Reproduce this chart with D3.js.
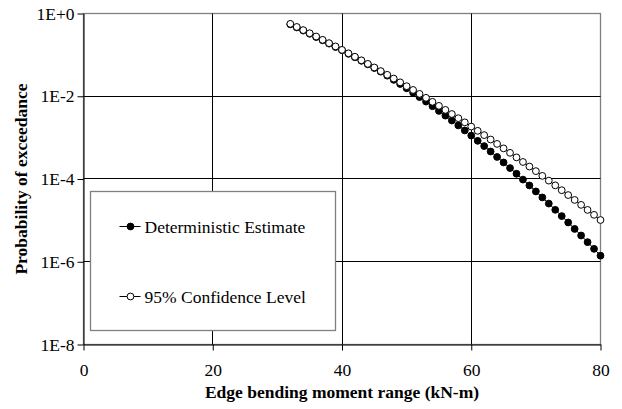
<!DOCTYPE html>
<html>
<head>
<meta charset="utf-8">
<script src="https://cdn.jsdelivr.net/npm/d3@7"></script>
<style>
  body { margin: 0; background: #fff; }
  svg text { font-family: "Liberation Serif", "Times New Roman", serif; fill: #000; }
</style>
</head>
<body>
<div id="chart"></div>
<script>

// Edge bending moment range (kN-m)
var moment = [32, 33, 34, 35, 36, 37, 38, 39, 40, 41, 42, 43, 44, 45, 46, 47, 48,
              49, 50, 51, 52, 53, 54, 55, 56, 57, 58, 59, 60, 61, 62, 63, 64, 65,
              66, 67, 68, 69, 70, 71, 72, 73, 74, 75, 76, 77, 78, 79, 80];

// Probability of exceedance, deterministic estimate (filled markers)
var deterministic = [0.547, 0.460, 0.386, 0.324, 0.270, 0.225, 0.187, 0.155, 0.129, 0.106,
                     0.0875, 0.0719, 0.0589, 0.0482, 0.0393, 0.0314, 0.0249, 0.0198, 0.0156, 0.0122,
                     9.55e-3, 7.43e-3, 5.75e-3, 4.43e-3, 3.40e-3, 2.59e-3, 1.97e-3, 1.49e-3, 1.12e-3,
                     8.37e-4, 6.24e-4, 4.62e-4, 3.41e-4, 2.51e-4, 1.84e-4, 1.34e-4,
                     9.68e-5, 6.98e-5, 5.01e-5, 3.58e-5, 2.55e-5, 1.80e-5, 1.27e-5,
                     8.89e-6, 6.21e-6, 4.31e-6, 2.98e-6, 2.05e-6, 1.40e-6];

// Probability of exceedance, 95% confidence level (open markers)
var confidence95 = [0.562, 0.473, 0.397, 0.333, 0.278, 0.231, 0.192, 0.160, 0.132, 0.109,
                    0.0899, 0.0738, 0.0606, 0.0496, 0.0405, 0.0330, 0.0268, 0.0217, 0.0175, 0.0142,
                    0.0114, 9.16e-3, 7.33e-3, 5.86e-3, 4.68e-3, 3.72e-3, 2.95e-3, 2.34e-3, 1.85e-3,
                    1.46e-3, 1.15e-3, 9.00e-4, 7.05e-4, 5.50e-4, 4.29e-4, 3.33e-4, 2.58e-4,
                    2.00e-4, 1.55e-4, 1.19e-4, 9.14e-5, 7.01e-5, 5.36e-5, 4.09e-5, 3.12e-5,
                    2.37e-5, 1.79e-5, 1.36e-5, 1.02e-5];

var xTicks = [0, 20, 40, 60, 80];
var yTicks = [1e0, 1e-2, 1e-4, 1e-6, 1e-8];
var yTickLabels = ["1E+0", "1E-2", "1E-4", "1E-6", "1E-8"];
var seriesNames = ["Deterministic Estimate", "95% Confidence Level"];

var serif = '"Liberation Serif", "Times New Roman", serif';

var W = 622, H = 409;
var margin = {top: 13, right: 22, bottom: 65, left: 83};
var width  = W - margin.left - margin.right;
var height = H - margin.top - margin.bottom;

var svg = d3.select("#chart")
    .append("svg")
    .attr("width", W)
    .attr("height", H)
    .attr("font-family", serif)
  .append("g")
    .attr("transform", "translate(" + (margin.left + 0.5) + "," + (margin.top + 0.5) + ")");

var xs = d3.scaleLinear().domain([0, 80]).range([0, width]);
var ys = d3.scaleLog().domain([1e-8, 1]).range([height, 0]);

// plot frame (grey top and right edge)
svg.append("rect")
    .attr("width", width)
    .attr("height", height)
    .attr("fill", "none")
    .attr("stroke", "#808080")
    .attr("stroke-width", 1.3);

// grid lines
svg.append("g")
    .selectAll("line")
    .data(xTicks.slice(1, -1))
    .join("line")
    .attr("x1", d => Math.round(xs(d))).attr("x2", d => Math.round(xs(d)))
    .attr("y1", 0).attr("y2", height)
    .attr("stroke", "#000");

svg.append("g")
    .selectAll("line")
    .data(yTicks.slice(1, -1))
    .join("line")
    .attr("x1", 0).attr("x2", width)
    .attr("y1", d => Math.round(ys(d))).attr("y2", d => Math.round(ys(d)))
    .attr("stroke", "#000");

// axes
var xAxis = svg.append("g")
    .attr("transform", "translate(0," + height + ")")
    .call(d3.axisBottom(xs).tickValues(xTicks).tickSize(6).tickSizeOuter(0).tickPadding(13));

var yAxis = svg.append("g")
    .call(d3.axisLeft(ys).tickValues(yTicks).tickSize(6).tickSizeOuter(0).tickPadding(3)
        .tickFormat((d, i) => yTickLabels[i]));

[xAxis, yAxis].forEach(function(a) {
    a.attr("font-family", serif).attr("font-size", 17.5);
    a.select(".domain").attr("stroke", "#000");
    a.selectAll(".tick line").attr("stroke", "#000");
    a.selectAll(".tick text").attr("fill", "#000");
});

// axis titles
svg.append("text")
    .attr("x", width / 2)
    .attr("y", height + 53)
    .attr("text-anchor", "middle")
    .style("font-weight", "bold")
    .style("font-size", "17.5px")
    .text("Edge bending moment range (kN-m)");

svg.append("text")
    .attr("transform", "rotate(-90)")
    .attr("x", -height / 2)
    .attr("y", -57)
    .attr("text-anchor", "middle")
    .style("font-weight", "bold")
    .style("font-size", "17.5px")
    .text("Probability of exceedance");

// series
var line = d3.line()
    .x(d => xs(d[0]))
    .y(d => ys(d[1]));

var series = [
    {name: seriesNames[0], vals: deterministic, fill: "#000"},
    {name: seriesNames[1], vals: confidence95,  fill: "#fff"}
];

var r = 3.4;

series.forEach(function(s) {
    var pts = moment.map((m, i) => [m, s.vals[i]]);
    svg.append("path")
        .datum(pts)
        .attr("d", line)
        .attr("fill", "none")
        .attr("stroke", "#000")
        .attr("stroke-width", 1);
    svg.append("g")
        .selectAll("circle")
        .data(pts)
        .join("circle")
        .attr("cx", d => xs(d[0]))
        .attr("cy", d => ys(d[1]))
        .attr("r", r)
        .attr("fill", s.fill)
        .attr("stroke", "#000")
        .attr("stroke-width", 1);
});

// legend
var lg = svg.append("g").attr("transform", "translate(7,178)");
lg.append("rect")
    .attr("width", 245)
    .attr("height", 139)
    .attr("fill", "#fff")
    .attr("stroke", "#808080")
    .attr("stroke-width", 1.3);

series.forEach(function(s, i) {
    var cy = 35 + i * 70;
    lg.append("line")
        .attr("x1", 29).attr("x2", 50)
        .attr("y1", cy).attr("y2", cy)
        .attr("stroke", "#000");
    lg.append("circle")
        .attr("cx", 40).attr("cy", cy).attr("r", r)
        .attr("fill", s.fill)
        .attr("stroke", "#000");
    lg.append("text")
        .attr("x", 54)
        .attr("y", cy + 6)
        .style("font-size", "17.5px")
        .text(s.name);
});
</script>
</body>
</html>
